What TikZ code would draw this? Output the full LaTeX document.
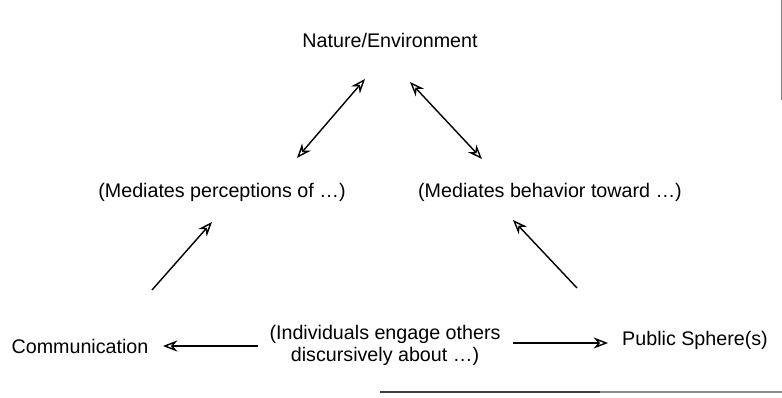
\documentclass[tikz,border=0pt]{standalone}
\usepackage{fontspec}
\setmainfont{Liberation Sans}
\usetikzlibrary{arrows.meta}
\begin{document}
\begin{tikzpicture}[x=0.025cm, y=-0.025cm,
        >={Stealth[open, length=3.6mm, width=2.8mm]},
        label/.style={font=\fontsize{14}{15.6}\selectfont, inner sep=0pt},
        link/.style={->, line width=1pt},
        twoway/.style={<->, line width=1pt}]
        \useasboundingbox (0,0) rectangle (782,398);
        % Top node
        \node[label, anchor=base] (nature) at (390,48) {Nature/Environment};
        % Middle row
        \node[label, anchor=base] (perceptions) at (222,198) {(Mediates perceptions of \dots)};
        \node[label, anchor=base] (behavior) at (550,198) {(Mediates behavior toward \dots)};
        % Bottom row
        \node[label, anchor=base] (communication) at (80,354) {Communication};
        \node[label, align=center] (individuals) at (385,345) {(Individuals engage others\\discursively about \dots)};
        \node[label, anchor=base] (sphere) at (695,346) {Public Sphere(s)};
        % Free ends of the arrows
        \coordinate (lu1) at (297,158); \coordinate (lu2) at (365,79);
        \coordinate (ru1) at (482,159); \coordinate (ru2) at (410,82);
        \coordinate (ll1) at (152,290); \coordinate (ll2) at (212,222);
        \coordinate (rl1) at (577,288); \coordinate (rl2) at (513,220);
        \coordinate (bl1) at (258,346); \coordinate (bl2) at (163,346);
        \coordinate (br1) at (513,343); \coordinate (br2) at (608,343);
        % Double arrows to the top
        \draw[twoway] (lu1) -- (lu2);
        \draw[twoway] (ru1) -- (ru2);
        % Arrows up from the bottom row
        \draw[link] (ll1) -- (ll2);
        \draw[link] (rl1) -- (rl2);
        % Arrows out of the middle text
        \draw[link] (bl1) -- (bl2);
        \draw[link] (br1) -- (br2);
        % Edges of the page
        \draw[black!75, line width=1.2pt] (380,392) -- (600,392);
        \draw[black!45, line width=1.2pt] (600,392) -- (782,392);
        \draw[black!50, line width=0.6pt] (781,0) -- (781,100);
\end{tikzpicture}
\end{document}
